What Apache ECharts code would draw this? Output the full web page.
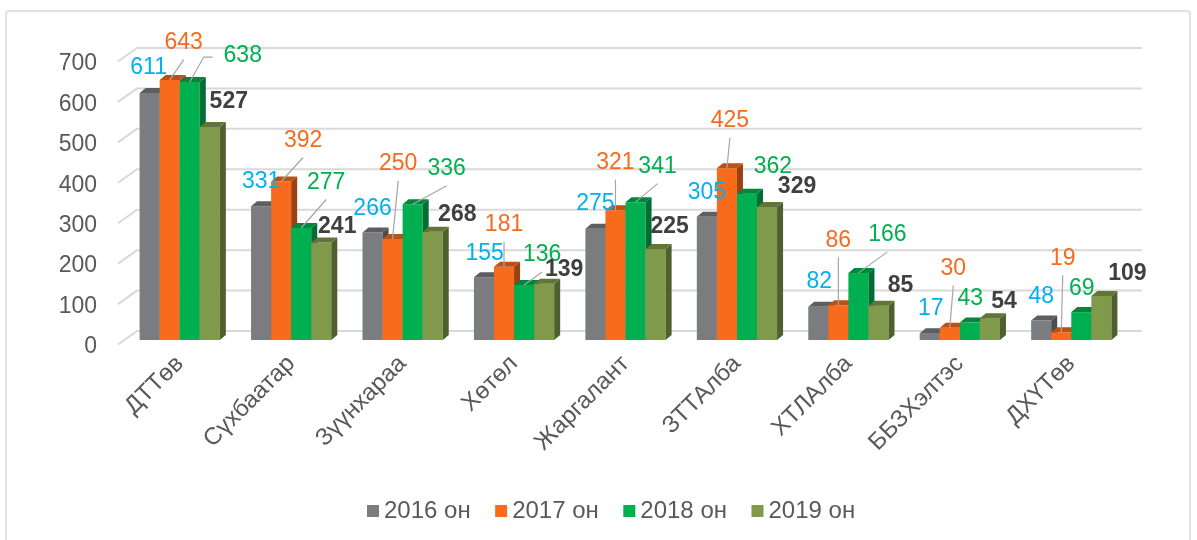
<!DOCTYPE html>
<html>
<head>
<meta charset="utf-8">
<script src="https://cdn.jsdelivr.net/npm/echarts@6/dist/echarts.min.js"></script>
<style>
  html, body { margin: 0; padding: 0; background: #ffffff; }
  #chart { width: 1197px; height: 540px; }
</style>
</head>
<body>
<div id="chart"></div>
<script>
// ---- data ----
const categories = ['ДТТөв', 'Сүхбаатар', 'Зүүнхараа', 'Хөтөл', 'Жаргалант', 'ЗТТАлба', 'ХТЛАлба', 'ББЗХэлтэс', 'ДХҮТөв'];
const seriesNames = ['2016 он', '2017 он', '2018 он', '2019 он'];
const values2016 = [611, 331, 266, 155, 275, 305, 82, 17, 48];
const values2017 = [643, 392, 250, 181, 321, 425, 86, 30, 19];
const values2018 = [638, 277, 336, 136, 341, 362, 166, 43, 69];
const values2019 = [527, 241, 268, 139, 225, 329, 85, 54, 109];
const yTickValues = [0, 100, 200, 300, 400, 500, 600, 700];

const allValues = [values2016, values2017, values2018, values2019];

// ---- styling ----
const FONT = '"Liberation Sans", Arial, sans-serif';
const barColors = ['#7b7c80', '#f86a1c', '#00b050', '#7f9a4a'];
const labelColors = ['#00b0f0', '#f86a1c', '#00b050', '#404040'];
const labelWeights = ['normal', 'normal', 'normal', 'bold'];
const DEPTH_X = 6;   // 3D depth of each bar, px
const DEPTH_Y = 5;

// value-label placement, px relative to the front-top centre of each bar
const labelShift = [
  [[-1, -25], [0, -24.5], [0, -24], [0.7, -24], [0, -25], [0, -24], [1, -25], [1, -24.5], [0, -24]],
  [[14, -37.5], [22, -41], [5.6, -75], [0, -42], [0, -47.5], [3, -47.5], [0, -65], [3.5, -59.5], [1.5, -74]],
  [[53, -26], [25, -45.5], [34, -35.5], [18, -30], [22, -35.5], [26, -27], [29, -38], [0.5, -24], [0.5, -23.5]],
  [[19, -25], [16, -16], [24.6, -17], [20, -14], [14, -22.5], [30, -20.5], [22, -20], [14, -16.5], [26, -22]]
];
// leader line kind: 0 none, 1 to label bottom, 2 to label left side with elbow
const leaderKind = [
  [0, 0, 0, 0, 0, 0, 0, 0, 0],
  [1, 1, 1, 1, 1, 1, 1, 1, 1],
  [2, 1, 1, 1, 1, 0, 1, 0, 0],
  [0, 0, 0, 0, 0, 0, 0, 0, 0]
];

function shade(hex, k) {
  const n = parseInt(hex.slice(1), 16);
  const r = Math.round(((n >> 16) & 255) * k);
  const g = Math.round(((n >> 8) & 255) * k);
  const b = Math.round((n & 255) * k);
  return 'rgb(' + r + ',' + g + ',' + b + ')';
}

function makeBarRenderer(s) {
  return function (params, api) {
    const cat = api.value(0);
    const val = api.value(1);
    const top = api.coord([cat, val]);
    const base = api.coord([cat, 0]);
    const band = api.size([1, 0])[0];
    const w = band * 0.18;
    const x0 = top[0] - 2 * w + s * w;
    const x1 = x0 + w;
    const yT = top[1];
    const yB = base[1];
    const color = barColors[s];
    const children = [
      {
        type: 'rect', z2: s * 3,
        shape: { x: x0, y: yT, width: w, height: yB - yT },
        style: { fill: color }
      },
      {
        type: 'polygon', z2: s * 3 + 1,
        shape: { points: [[x1, yT], [x1 + DEPTH_X, yT - DEPTH_Y], [x1 + DEPTH_X, yB - DEPTH_Y], [x1, yB]] },
        style: { fill: shade(color, 0.62) }
      },
      {
        type: 'polygon', z2: s * 3 + 2,
        shape: { points: [[x0, yT], [x0 + DEPTH_X, yT - DEPTH_Y], [x1 + DEPTH_X, yT - DEPTH_Y], [x1, yT]] },
        style: { fill: shade(color, 0.76) }
      }
    ];
    const i = params.dataIndex;
    const cx = x0 + w / 2;
    const lx = cx + labelShift[s][i][0];
    const ly = yT + labelShift[s][i][1];
    const kind = leaderKind[s][i];
    if (kind === 1) {
      children.push({
        type: 'polyline', z2: 90,
        shape: { points: [[cx, yT], [lx, ly + 17]] },
        style: { stroke: '#a6a6a6', lineWidth: 1.2, fill: null }
      });
    } else if (kind === 2) {
      children.push({
        type: 'polyline', z2: 90,
        shape: { points: [[cx, yT], [lx - 39, ly + 1], [lx - 30, ly + 1]] },
        style: { stroke: '#a6a6a6', lineWidth: 1.2, fill: null }
      });
    }
    children.push({
      type: 'text', z2: 100,
      style: {
        x: lx, y: ly,
        text: String(val),
        fill: labelColors[s],
        fontSize: 23,
        fontFamily: FONT,
        fontWeight: labelWeights[s],
        align: 'center',
        verticalAlign: 'middle'
      }
    });
    return { type: 'group', children: children };
  };
}

// back-wall gridlines with the short perspective stub on the left
function renderGrid(params, api) {
  const p = api.coord([0, api.value(1)]);
  const cs = params.coordSys;
  return {
    type: 'polyline',
    shape: { points: [[cs.x - 6, p[1] + 4.5], [cs.x + 13, p[1] - 9], [cs.x + cs.width + 15, p[1] - 9]] },
    style: { stroke: '#d9d9d9', lineWidth: 2, fill: null }
  };
}

const series = [{
  type: 'custom',
  name: 'grid',
  z: 1,
  silent: true,
  renderItem: renderGrid,
  encode: { x: 0, y: 1 },
  data: yTickValues.map(function (v) { return [0, v]; })
}];

seriesNames.forEach(function (name, s) {
  series.push({
    type: 'custom',
    name: name,
    z: 2,
    itemStyle: { color: barColors[s] },
    renderItem: makeBarRenderer(s),
    encode: { x: 0, y: 1 },
    data: allValues[s].map(function (v, i) { return [i, v]; })
  });
});

const chart = echarts.init(document.getElementById('chart'), null, { renderer: 'canvas' });
chart.setOption({
  animation: false,
  backgroundColor: '#ffffff',
  textStyle: { fontFamily: FONT },
  graphic: [{
    type: 'rect', silent: true, z: -10,
    shape: { x: 6, y: 11, width: 1184, height: 560, r: 3 },
    style: { fill: 'none', stroke: '#d9d9d9', lineWidth: 1.5 }
  }],
  grid: { left: 124, right: 70, top: 57, bottom: 200 },
  xAxis: {
    type: 'category',
    data: categories,
    axisLine: { show: false },
    axisTick: { show: false },
    splitLine: { show: false },
    axisLabel: {
      rotate: 45,
      margin: 20,
      interval: 0,
      fontSize: 24,
      color: '#595959',
      fontFamily: FONT
    }
  },
  yAxis: {
    type: 'value',
    min: 0,
    max: 700,
    interval: 100,
    axisLine: { show: false },
    axisTick: { show: false },
    splitLine: { show: false },
    axisLabel: {
      margin: 27,
      fontSize: 23,
      color: '#595959',
      fontFamily: FONT,
      verticalAlign: 'top',
      lineHeight: 14
    }
  },
  legend: {
    data: seriesNames,
    left: 362,
    top: 494,
    icon: 'rect',
    itemWidth: 12,
    itemHeight: 12,
    itemGap: 24.5,
    textStyle: { fontSize: 24, color: '#595959', fontFamily: FONT }
  },
  series: series
});
</script>
</body>
</html>
